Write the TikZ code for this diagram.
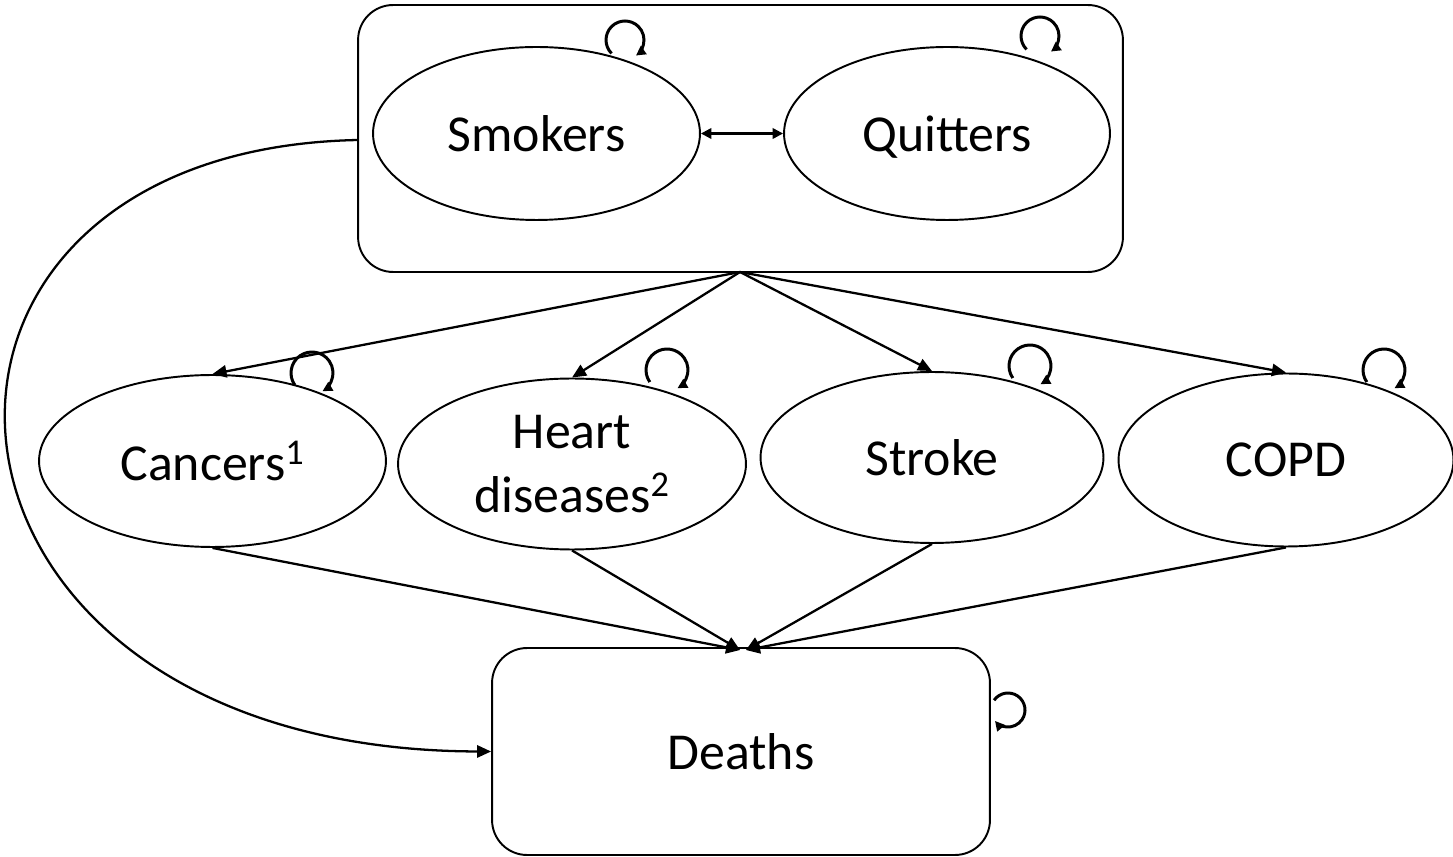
\documentclass[tikz,border=0pt]{standalone}
\usepackage{fontspec}
\setmainfont{Carlito}
\usetikzlibrary{shapes.geometric,arrows.meta}
\begin{document}
\begin{tikzpicture}[x=0.02cm,y=-0.02cm,
  every path/.style={line width=1.1pt},
  tip/.style={line width=1.3pt,-{Triangle[length=8pt,width=7pt]}},
  ell/.style={draw,ellipse,inner sep=0pt,font=\fontsize{29.5}{36}\selectfont,align=center},
  box/.style={draw,rounded corners=0.7cm,inner sep=0pt,font=\fontsize{29.5}{36}\selectfont},
  loopa/.style={line width=1.7pt,-{Triangle[length=5.5pt,width=5.5pt]}}]
\useasboundingbox (0,0) rectangle (1453,857);
% top box
\node[box,minimum width=15.3cm,minimum height=5.34cm] (top) at (740.5,138.5) {};
\node[ell,minimum width=6.54cm,minimum height=3.46cm] (sm) at (536.5,133.5) {Smokers};
\node[ell,minimum width=6.52cm,minimum height=3.46cm,text depth=0pt] (qu) at (947,133.5) {Quitters};
\draw[line width=1.3pt,{Triangle[length=6pt,width=6pt]}-{Triangle[length=6pt,width=6pt]}] (sm.east) -- (qu.west);
% disease ellipses
\node[ell,minimum width=6.94cm,minimum height=3.44cm] (ca) at (212.5,461) {Cancers\textsuperscript{1}};
\node[ell,minimum width=6.96cm,minimum height=3.42cm] (he) at (572,464) {Heart\\diseases\textsuperscript{2}};
\node[ell,minimum width=6.86cm,minimum height=3.42cm] (st) at (932,457.5) {Stroke};
\node[ell,minimum width=6.7cm,minimum height=3.46cm] (co) at (1286,460) {COPD};
% deaths
\node[box,minimum width=9.96cm,minimum height=4.14cm] (de) at (741,751.5) {Deaths};
% arrows from top box
\coordinate (apex) at (740,272);
\draw[tip] (apex) -- (ca.north);
\draw[tip] (apex) -- (he.north);
\draw[tip] (apex) -- (st.north);
\draw[tip] (apex) -- (co.north);
% arrows to deaths
\coordinate (d1) at (740,650);
\coordinate (d2) at (746,650);
\draw[tip] (ca.south) -- (d1);
\draw[tip] (he.south) -- (d1);
\draw[tip] (st.south) -- (d2);
\draw[tip] (co.south) -- (d2);
% big curve
\coordinate (tl) at (358,140);
\draw[tip] (tl) .. controls (-150,150) and (-110,750) .. (de.west);
% self loops
\draw[loopa] ([shift={(225:0.38cm)}]625,40) arc[start angle=225,end angle=-55,radius=0.38cm];
\draw[loopa] ([shift={(225:0.38cm)}]1040,36) arc[start angle=225,end angle=-55,radius=0.38cm];
\draw[loopa] ([shift={(215:0.42cm)}]312,373) arc[start angle=215,end angle=-60,radius=0.42cm];
\draw[loopa] ([shift={(215:0.42cm)}]667,370) arc[start angle=215,end angle=-60,radius=0.42cm];
\draw[loopa] ([shift={(215:0.42cm)}]1030,366) arc[start angle=215,end angle=-60,radius=0.42cm];
\draw[loopa] ([shift={(215:0.42cm)}]1384,370) arc[start angle=215,end angle=-60,radius=0.42cm];
\draw[loopa] ([shift={(145:0.34cm)}]1008,710) arc[start angle=145,end angle=-140,radius=0.34cm];
\end{tikzpicture}
\end{document}
